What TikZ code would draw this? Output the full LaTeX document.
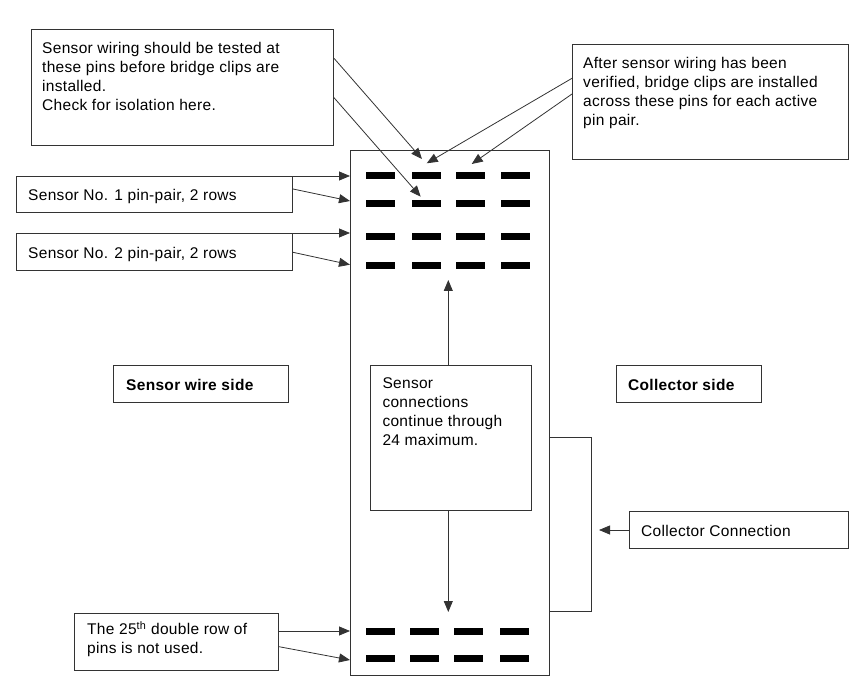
\documentclass[tikz,border=0pt]{standalone}
\usepackage{fontspec}
\setmainfont{Liberation Sans}[LetterSpace=2]
\usetikzlibrary{arrows.meta}
\begin{document}
\begin{tikzpicture}[x=1pt,y=-1pt,
  box/.style={draw=black!80, line width=1pt, inner sep=0pt, anchor=north west},
  txt/.style={anchor=north west, inner sep=0pt, align=left, font=\fontsize{15.5}{19}\selectfont},
  lbl/.style={anchor=base west, inner sep=0pt, font=\fontsize{15.5}{19}\selectfont},
  con/.style={draw=black!80, line width=0.8pt, -{Triangle[length=11pt,width=9pt]}},
  wire/.style={draw=black!80, line width=0.8pt},
  pin/.style={fill=black}]
\useasboundingbox (0,0) rectangle (865,676);

% main connector block
\node[box, minimum width=199pt, minimum height=525pt] (main) at (350,150) {};

% pins
\foreach \yy in {176,204,237,266}{
  \foreach \xx in {366,412,456,501}{
    \fill[pin] (\xx,\yy-3.5) rectangle (\xx+29,\yy+3.5);
  }}
\foreach \yy in {631,658}{
  \foreach \xx in {366,410,454,500}{
    \fill[pin] (\xx,\yy-3.5) rectangle (\xx+29,\yy+3.5);
  }}

% top-left note
\node[box, minimum width=302pt, minimum height=116pt] (tl) at (31,29) {};
\node[txt] (tlt) at (42,42.2) {Sensor wiring should be tested at\\these pins before bridge clips are\\installed.\\Check for isolation here.};

% top-right note
\node[box, minimum width=276pt, minimum height=115pt] (tr) at (572,44) {};
\node[txt] (trt) at (583,57) {After sensor wiring has been\\verified, bridge clips are installed\\across these pins for each active\\pin pair.};

% sensor boxes
\node[box, minimum width=276pt, minimum height=36pt] (s1) at (16,176) {};
\node[lbl] (s1t) at (28,200.7) {Sensor No. 1 pin-pair, 2 rows};
\node[box, minimum width=276pt, minimum height=37pt] (s2) at (16,233) {};
\node[lbl] (s2t) at (28,259) {Sensor No. 2 pin-pair, 2 rows};

% side labels
\node[box, minimum width=175pt, minimum height=37pt] (sws) at (113,365) {};
\node[lbl, font=\fontsize{15.5}{19}\selectfont\bfseries] (swst) at (126,390.7) {Sensor wire side};
\node[box, minimum width=145pt, minimum height=37pt] (cs) at (616,365) {};
\node[lbl, font=\fontsize{15.5}{19}\selectfont\bfseries] (cst) at (628,390.7) {Collector side};

% middle note
\node[box, minimum width=161pt, minimum height=145pt] (mid) at (370,365) {};
\node[txt] (midt) at (382.3,377.8) {Sensor\\connections\\continue through\\24 maximum.};

% collector connection
\node[box, minimum width=219pt, minimum height=37pt] (cc) at (629,511) {};
\node[lbl] (cct) at (641,536.7) {Collector Connection};

% 25th note
\node[box, minimum width=204pt, minimum height=57pt] (n25) at (74,613) {};
\node[txt] (n25t) at (87,621.5) {The 25\textsuperscript{th} double row of\\pins is not used.};

% arrow end coordinates
\coordinate (a1) at (422,159);
\coordinate (a2) at (420.7,196.7);
\coordinate (b1) at (426.7,163.3);
\coordinate (b2) at (471.7,164);
\coordinate (up) at (448.3,280);
\coordinate (dn) at (448.3,612);
\coordinate (br1) at (591.7,437.7);
\coordinate (br2) at (591.7,611.7);
\coordinate (ccend) at (599,530);

% connectors
\draw[con] (tl.east |- 0,58.3) -- (a1);
\draw[con] (tl.east |- 0,97.7) -- (a2);
\draw[con] (tr.west |- 0,78.3) -- (b1);
\draw[con] (tr.west |- 0,94) -- (b2);

\draw[con] (s1.north east) -- (s1.north east -| main.west);
\draw[con] (s1.east |- 0,189) -- (main.west |- 0,201);
\draw[con] (s2.north east) -- (s2.north east -| main.west);
\draw[con] (s2.east |- 0,252.3) -- (main.west |- 0,264.7);

\draw[con] (n25.east |- 0,631) -- (main.west |- 0,631);
\draw[con] (n25.east |- 0,646.7) -- (main.west |- 0,660);

\draw[con] (mid.north -| up) -- (up);
\draw[con] (mid.south -| dn) -- (dn);

\draw[wire] (main.east |- br1) -- (br1) -- (br2) -- (main.east |- br2);
\draw[con] (cc.west |- ccend) -- (ccend);
\end{tikzpicture}
\end{document}
